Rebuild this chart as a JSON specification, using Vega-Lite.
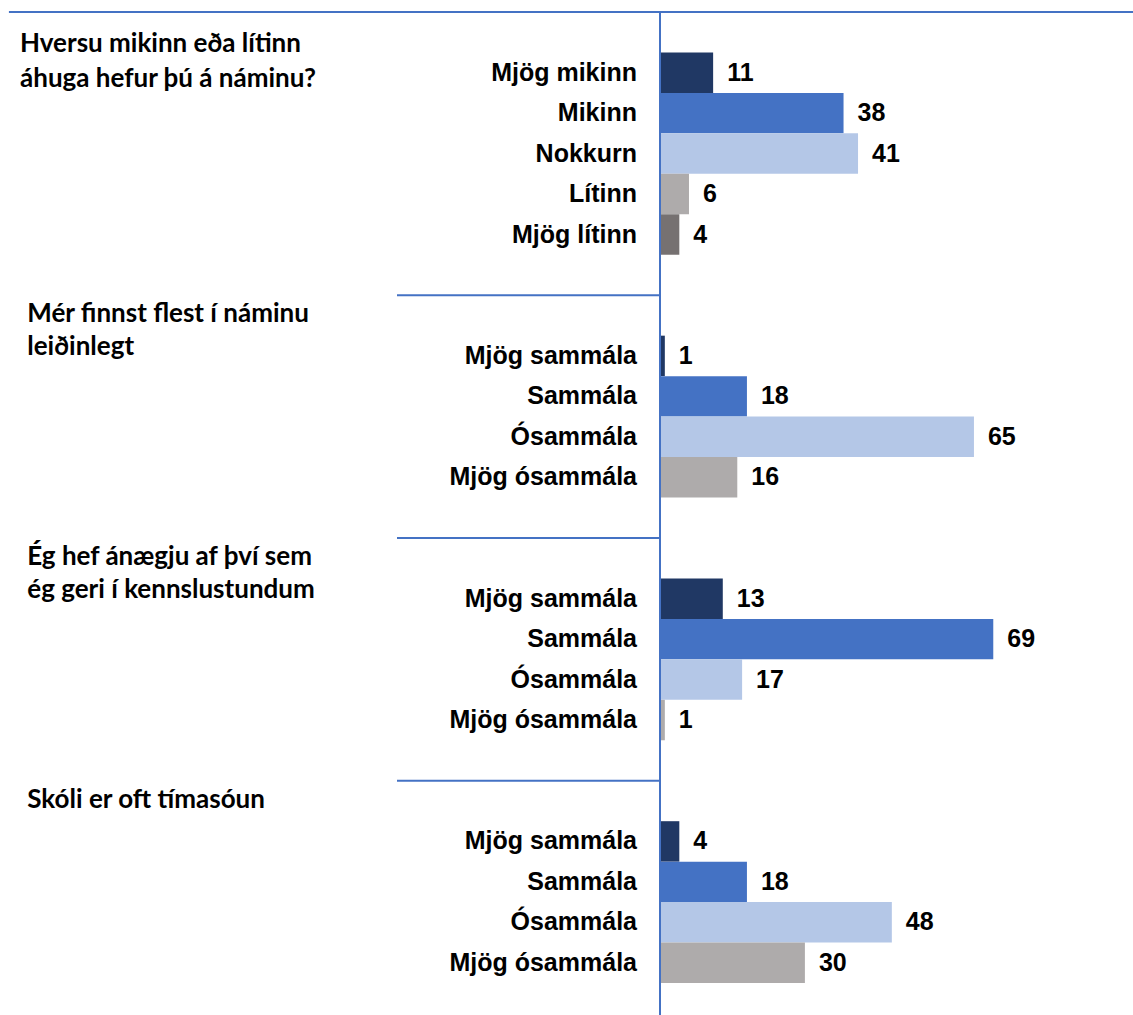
{
  "$schema": "https://vega.github.io/schema/vega-lite/v6.json",
  "width": 1133,
  "height": 1015,
  "padding": 0,
  "autosize": {"type": "none"},
  "background": "white",
  "config": {"view": {"stroke": null}},
  "datasets": {
    "bars": [
      {"slot": "q1-1", "label": "Mjög mikinn", "value": 11, "rank": 1},
      {"slot": "q1-2", "label": "Mikinn", "value": 38, "rank": 2},
      {"slot": "q1-3", "label": "Nokkurn", "value": 41, "rank": 3},
      {"slot": "q1-4", "label": "Lítinn", "value": 6, "rank": 4},
      {"slot": "q1-5", "label": "Mjög lítinn", "value": 4, "rank": 5},
      {"slot": "q2-1", "label": "Mjög sammála", "value": 1, "rank": 1},
      {"slot": "q2-2", "label": "Sammála", "value": 18, "rank": 2},
      {"slot": "q2-3", "label": "Ósammála", "value": 65, "rank": 3},
      {"slot": "q2-4", "label": "Mjög ósammála", "value": 16, "rank": 4},
      {"slot": "q3-1", "label": "Mjög sammála", "value": 13, "rank": 1},
      {"slot": "q3-2", "label": "Sammála", "value": 69, "rank": 2},
      {"slot": "q3-3", "label": "Ósammála", "value": 17, "rank": 3},
      {"slot": "q3-4", "label": "Mjög ósammála", "value": 1, "rank": 4},
      {"slot": "q4-1", "label": "Mjög sammála", "value": 4, "rank": 1},
      {"slot": "q4-2", "label": "Sammála", "value": 18, "rank": 2},
      {"slot": "q4-3", "label": "Ósammála", "value": 48, "rank": 3},
      {"slot": "q4-4", "label": "Mjög ósammála", "value": 30, "rank": 4}
    ],
    "questions": [
      {"slot": "q1", "question": "Hversu mikinn eða lítinn\náhuga hefur þú á náminu?"},
      {"slot": "q2", "question": "Mér finnst flest í náminu\nleiðinlegt"},
      {"slot": "q3", "question": "Ég hef ánægju af því sem\nég geri í kennslustundum"},
      {"slot": "q4", "question": "Skóli er oft tímasóun"}
    ],
    "separators": [
      {"slot": "q2"},
      {"slot": "q3"},
      {"slot": "q4"}
    ]
  },
  "encoding": {
    "y": {
      "field": "slot",
      "type": "nominal",
      "axis": null,
      "scale": {
        "type": "band",
        "domain": ["q1", "q1-1", "q1-2", "q1-3", "q1-4", "q1-5", "q1-gap",
                   "q2", "q2-1", "q2-2", "q2-3", "q2-4", "q2-gap",
                   "q3", "q3-1", "q3-2", "q3-3", "q3-4", "q3-gap",
                   "q4", "q4-1", "q4-2", "q4-3", "q4-4"],
        "paddingInner": 0,
        "paddingOuter": 0.543,
        "align": 0.2727
      }
    }
  },
  "layer": [
    {
      "data": {"name": "bars"},
      "mark": {"type": "bar"},
      "encoding": {
        "x": {
          "field": "value",
          "type": "quantitative",
          "axis": null,
          "scale": {"domain": [-136.646, 97.929], "nice": false, "zero": false}
        },
        "color": {
          "field": "rank",
          "type": "ordinal",
          "legend": null,
          "scale": {"domain": [1, 2, 3, 4, 5], "range": ["#203864", "#4472C4", "#B4C7E7", "#AEABAB", "#767171"]}
        }
      }
    },
    {
      "data": {"name": "bars"},
      "mark": {"type": "text", "align": "left", "baseline": "middle", "dx": 14, "font": "Liberation Sans", "fontWeight": "bold", "fontSize": 25, "color": "#000000"},
      "encoding": {
        "x": {"field": "value", "type": "quantitative"},
        "text": {"field": "value", "type": "quantitative", "format": "d"}
      }
    },
    {
      "data": {"name": "bars"},
      "mark": {"type": "text", "align": "right", "baseline": "middle", "dx": -23, "font": "Liberation Sans", "fontWeight": "bold", "fontSize": 25, "color": "#000000"},
      "encoding": {
        "x": {"datum": 0, "type": "quantitative"},
        "text": {"field": "label", "type": "nominal"}
      }
    },
    {
      "data": {"name": "questions"},
      "transform": [{"filter": "datum.slot === 'q1'"}],
      "mark": {"type": "text", "align": "left", "baseline": "alphabetic", "dy": 40, "lineBreak": "\n", "lineHeight": 35, "font": "Lato", "fontWeight": "bold", "fontSize": 26, "color": "#000000"},
      "encoding": {
        "x": {"datum": -132.5, "type": "quantitative"},
        "y": {"field": "slot", "type": "nominal", "bandPosition": 0},
        "text": {"field": "question", "type": "nominal"}
      }
    },
    {
      "data": {"name": "questions"},
      "transform": [{"filter": "datum.slot !== 'q1'"}],
      "mark": {"type": "text", "align": "left", "baseline": "alphabetic", "dy": 27, "lineBreak": "\n", "lineHeight": 33, "font": "Lato", "fontWeight": "bold", "fontSize": 26, "color": "#000000"},
      "encoding": {
        "x": {"datum": -131.0, "type": "quantitative"},
        "y": {"field": "slot", "type": "nominal", "bandPosition": 0},
        "text": {"field": "question", "type": "nominal"}
      }
    },
    {
      "data": {"name": "separators"},
      "mark": {"type": "rule", "color": "#4472C4", "strokeWidth": 2},
      "encoding": {
        "x": {"datum": -54.45, "type": "quantitative"},
        "x2": {"datum": 0},
        "y": {"field": "slot", "type": "nominal", "bandPosition": 0}
      }
    },
    {
      "data": {"values": [{"slot": "q1"}]},
      "mark": {"type": "rule", "color": "#4472C4", "strokeWidth": 2},
      "encoding": {
        "x": {"datum": -134.8, "type": "quantitative"},
        "x2": {"datum": 97.929},
        "y": {"field": "slot", "type": "nominal", "bandPosition": 0}
      }
    },
    {
      "data": {"values": [{"slot": "q1"}]},
      "mark": {"type": "rule", "color": "#4472C4", "strokeWidth": 2},
      "encoding": {
        "x": {"datum": 0, "type": "quantitative"},
        "y": {"field": "slot", "type": "nominal", "bandPosition": 0},
        "y2": {"value": "height"}
      }
    }
  ]
}
